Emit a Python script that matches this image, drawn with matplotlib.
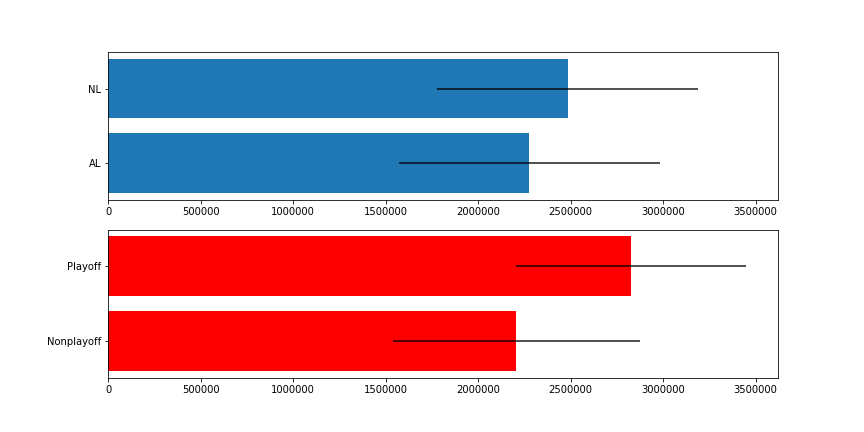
import numpy as np
import matplotlib
matplotlib.use('Agg')
import matplotlib.pyplot as plt

leagues = ['AL', 'NL']
league_mean = [2277000, 2484000]
league_std = [706000, 703000]

playoff = ['Nonplayoff', 'Playoff']
playoff_mean = [2207000, 2825000]
playoff_std = [668000, 622000]

fig = plt.figure(figsize=(12, 6), dpi=72)
ax1 = plt.subplot(211)
ax1.barh(leagues, league_mean, xerr=league_std,
         error_kw=dict(ecolor='k', alpha=0.75, lw=1.8))

ax2 = plt.subplot(212, sharex=ax1)
ax2.barh(playoff, playoff_mean, xerr=playoff_std, color='red',
         error_kw=dict(ecolor='k', alpha=0.75, lw=1.8))

ax1.ticklabel_format(axis='x', style='plain')
plt.subplots_adjust(bottom=0.125)
plt.savefig('out.png')
